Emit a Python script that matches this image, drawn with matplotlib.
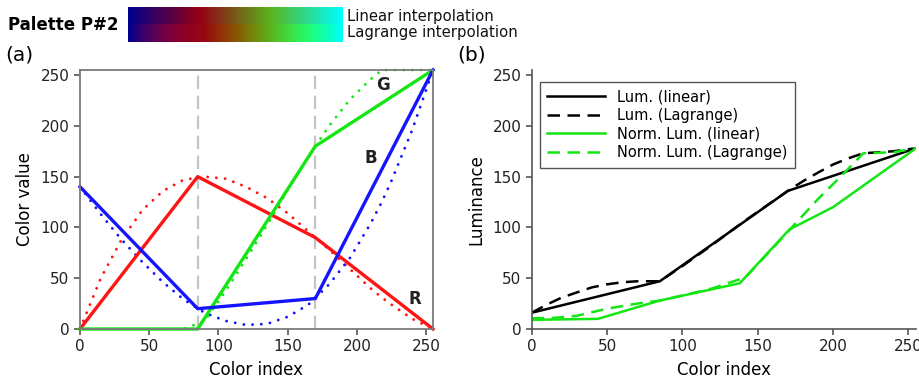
import numpy as np
import matplotlib
matplotlib.use('Agg')
import matplotlib.pyplot as plt
from matplotlib.colors import LinearSegmentedColormap

plt.rcParams['font.family'] = ['DejaVu Sans']

# control points of palette P#2 (linear interpolation)
ctrl_x = [0, 85, 170, 255]
ctrl_r = [0, 150, 90, 0]
ctrl_g = [0, 0, 180, 255]
ctrl_b = [140, 20, 30, 255]

# Lagrange interpolation
lag_x = [0, 15, 30, 45, 60, 75, 90, 105, 120, 135, 150, 165, 180, 195, 210, 218, 225, 240, 255]
lag_r = [0, 50, 88, 117, 136, 147, 150, 148, 140, 129, 114, 96, 78, 59, 40, 31, 24, 10, 0]
lag_g = [0, 0, 0, 0, 0, 0, 8, 37, 69, 102, 137, 170, 200, 226, 246, 255, 255, 255, 255]
lag_b = [140, 113, 88, 66, 46, 29, 16, 8, 4, 5, 12, 24, 44, 70, 104, 125, 146, 196, 255]

# luminance curves, panel (b)
lum_lin_x = [0, 85, 170, 255]
lum_lin_y = [16, 47, 136, 178]
lum_lag_x = [0, 10, 20, 30, 40, 50, 60, 70, 85, 100, 120, 140, 170, 180, 190, 200, 210, 220, 230, 240, 255]
lum_lag_y = [16, 24, 31, 36, 41, 44, 46, 47, 47, 62, 83, 105, 136, 145.5, 154, 162, 168, 173, 174, 175, 178]
nlum_lin_x = [0, 44, 85, 138, 171, 200, 255]
nlum_lin_y = [9, 10, 28, 45, 98, 120, 178]
nlum_lag_x = [0, 15, 30, 50, 70, 85, 100, 120, 142, 172, 190, 207, 220, 240, 255]
nlum_lag_y = [10.5, 11, 13, 20, 25, 28, 33, 40, 51, 99, 128, 153, 173, 174, 178]

RED = '#ff1414'
GREEN = '#14e614'
BLUE = '#1414ff'

W, H = 920, 382
fig = plt.figure(figsize=(9.2, 3.82), dpi=100)


def box(l, t, r, b):
    return [l / W, 1 - b / H, (r - l) / W, (b - t) / H]


# palette strip
cm_lin = LinearSegmentedColormap.from_list(
    'lin', [(x / 255, (r / 255, g / 255, b / 255)) for x, r, g, b in zip(ctrl_x, ctrl_r, ctrl_g, ctrl_b)])
cm_lag = LinearSegmentedColormap.from_list(
    'lag', [(x / 255, (r / 255, g / 255, b / 255)) for x, r, g, b in zip(lag_x, lag_r, lag_g, lag_b)])
idx = np.linspace(0, 1, 256)
strip = np.stack([cm_lin(idx)[:, :3], cm_lag(idx)[:, :3]])
axs = fig.add_axes(box(128, 7, 343, 42))
axs.imshow(strip, aspect='auto', interpolation='nearest')
axs.axis('off')
fig.text(8 / W, 1 - 25 / H, 'Palette P#2', fontsize=12, fontweight='bold', va='center', ha='left')
fig.text(347 / W, 1 - 17 / H, 'Linear interpolation', fontsize=10.7, va='center', ha='left', color='#111111')
fig.text(347 / W, 1 - 33 / H, 'Lagrange interpolation', fontsize=10.7, va='center', ha='left', color='#111111')

fig.text(5 / W, 1 - 55 / H, '(a)', fontsize=14.5, va='center', ha='left')
fig.text(457 / W, 1 - 55 / H, '(b)', fontsize=14.5, va='center', ha='left')

# panel (a)
ax = fig.add_axes(box(80, 70, 433, 329))
for xv in ctrl_x[1:3]:
    ax.axvline(xv, color='#c4c4c4', lw=1.6, ls=(0, (6, 3)), zorder=1)
dot = dict(lw=2.1, ls=(0, (0.01, 3.0)), dash_capstyle='round', clip_on=False)
ax.plot(lag_x, lag_r, color=RED, **dot)
ax.plot(lag_x, lag_g, color=GREEN, **dot)
ax.plot(lag_x, lag_b, color=BLUE, **dot)
ax.plot(ctrl_x, ctrl_r, color=RED, lw=2.4, clip_on=False)
ax.plot(ctrl_x, ctrl_g, color=GREEN, lw=2.4, clip_on=False)
ax.plot(ctrl_x, ctrl_b, color=BLUE, lw=2.4, clip_on=False)
ax.text(219, 240, 'G', fontsize=12, fontweight='bold', ha='center', va='center', color='#222222')
ax.text(210, 168, 'B', fontsize=12, fontweight='bold', ha='center', va='center', color='#222222')
ax.text(242, 30, 'R', fontsize=12, fontweight='bold', ha='center', va='center', color='#222222')
ax.set_xlim(0, 255)
ax.set_ylim(0, 255)
ax.set_xticks([0, 50, 100, 150, 200, 250])
ax.set_yticks([0, 50, 100, 150, 200, 250])
for s in ax.spines.values():
    s.set_color('#7a7a7a')
    s.set_linewidth(1.3)
ax.tick_params(direction='out', length=4, width=1.2, color='#555555', labelsize=11, labelcolor='#222222')
ax.set_xlabel('Color index', fontsize=12, labelpad=5)
ax.set_ylabel('Color value', fontsize=12, labelpad=5)

# panel (b)
bx = fig.add_axes(box(531.7, 70, 916, 329))
bx.plot(lum_lin_x, lum_lin_y, color='black', lw=1.8, label='Lum. (linear)')
bx.plot(lum_lag_x, lum_lag_y, color='black', lw=1.8, ls=(0, (5, 3)), label='Lum. (Lagrange)')
bx.plot(nlum_lin_x, nlum_lin_y, color=GREEN, lw=1.8, label='Norm. Lum. (linear)')
bx.plot(nlum_lag_x, nlum_lag_y, color=GREEN, lw=1.8, ls=(0, (5, 3)), label='Norm. Lum. (Lagrange)')
bx.set_xlim(0, 255)
bx.set_ylim(0, 255)
bx.set_xticks([0, 50, 100, 150, 200, 250])
bx.set_yticks([0, 50, 100, 150, 200, 250])
bx.spines['top'].set_visible(False)
bx.spines['right'].set_visible(False)
for s in ['left', 'bottom']:
    bx.spines[s].set_color('#555555')
    bx.spines[s].set_linewidth(1.2)
bx.tick_params(direction='out', length=4, width=1.2, color='#555555', labelsize=11, labelcolor='#222222')
bx.set_xlabel('Color index', fontsize=12, labelpad=5)
bx.set_ylabel('Luminance', fontsize=12, labelpad=5)
leg = bx.legend(loc='upper left', bbox_to_anchor=(8 / 384, 1 - 12 / 259), fontsize=10.5,
                handlelength=4.0, handletextpad=0.8, labelspacing=0.25, borderpad=0.5,
                fancybox=False, framealpha=1, edgecolor='#555555', borderaxespad=0)
leg.get_frame().set_linewidth(1.0)

fig.savefig('out.png', dpi=100)
